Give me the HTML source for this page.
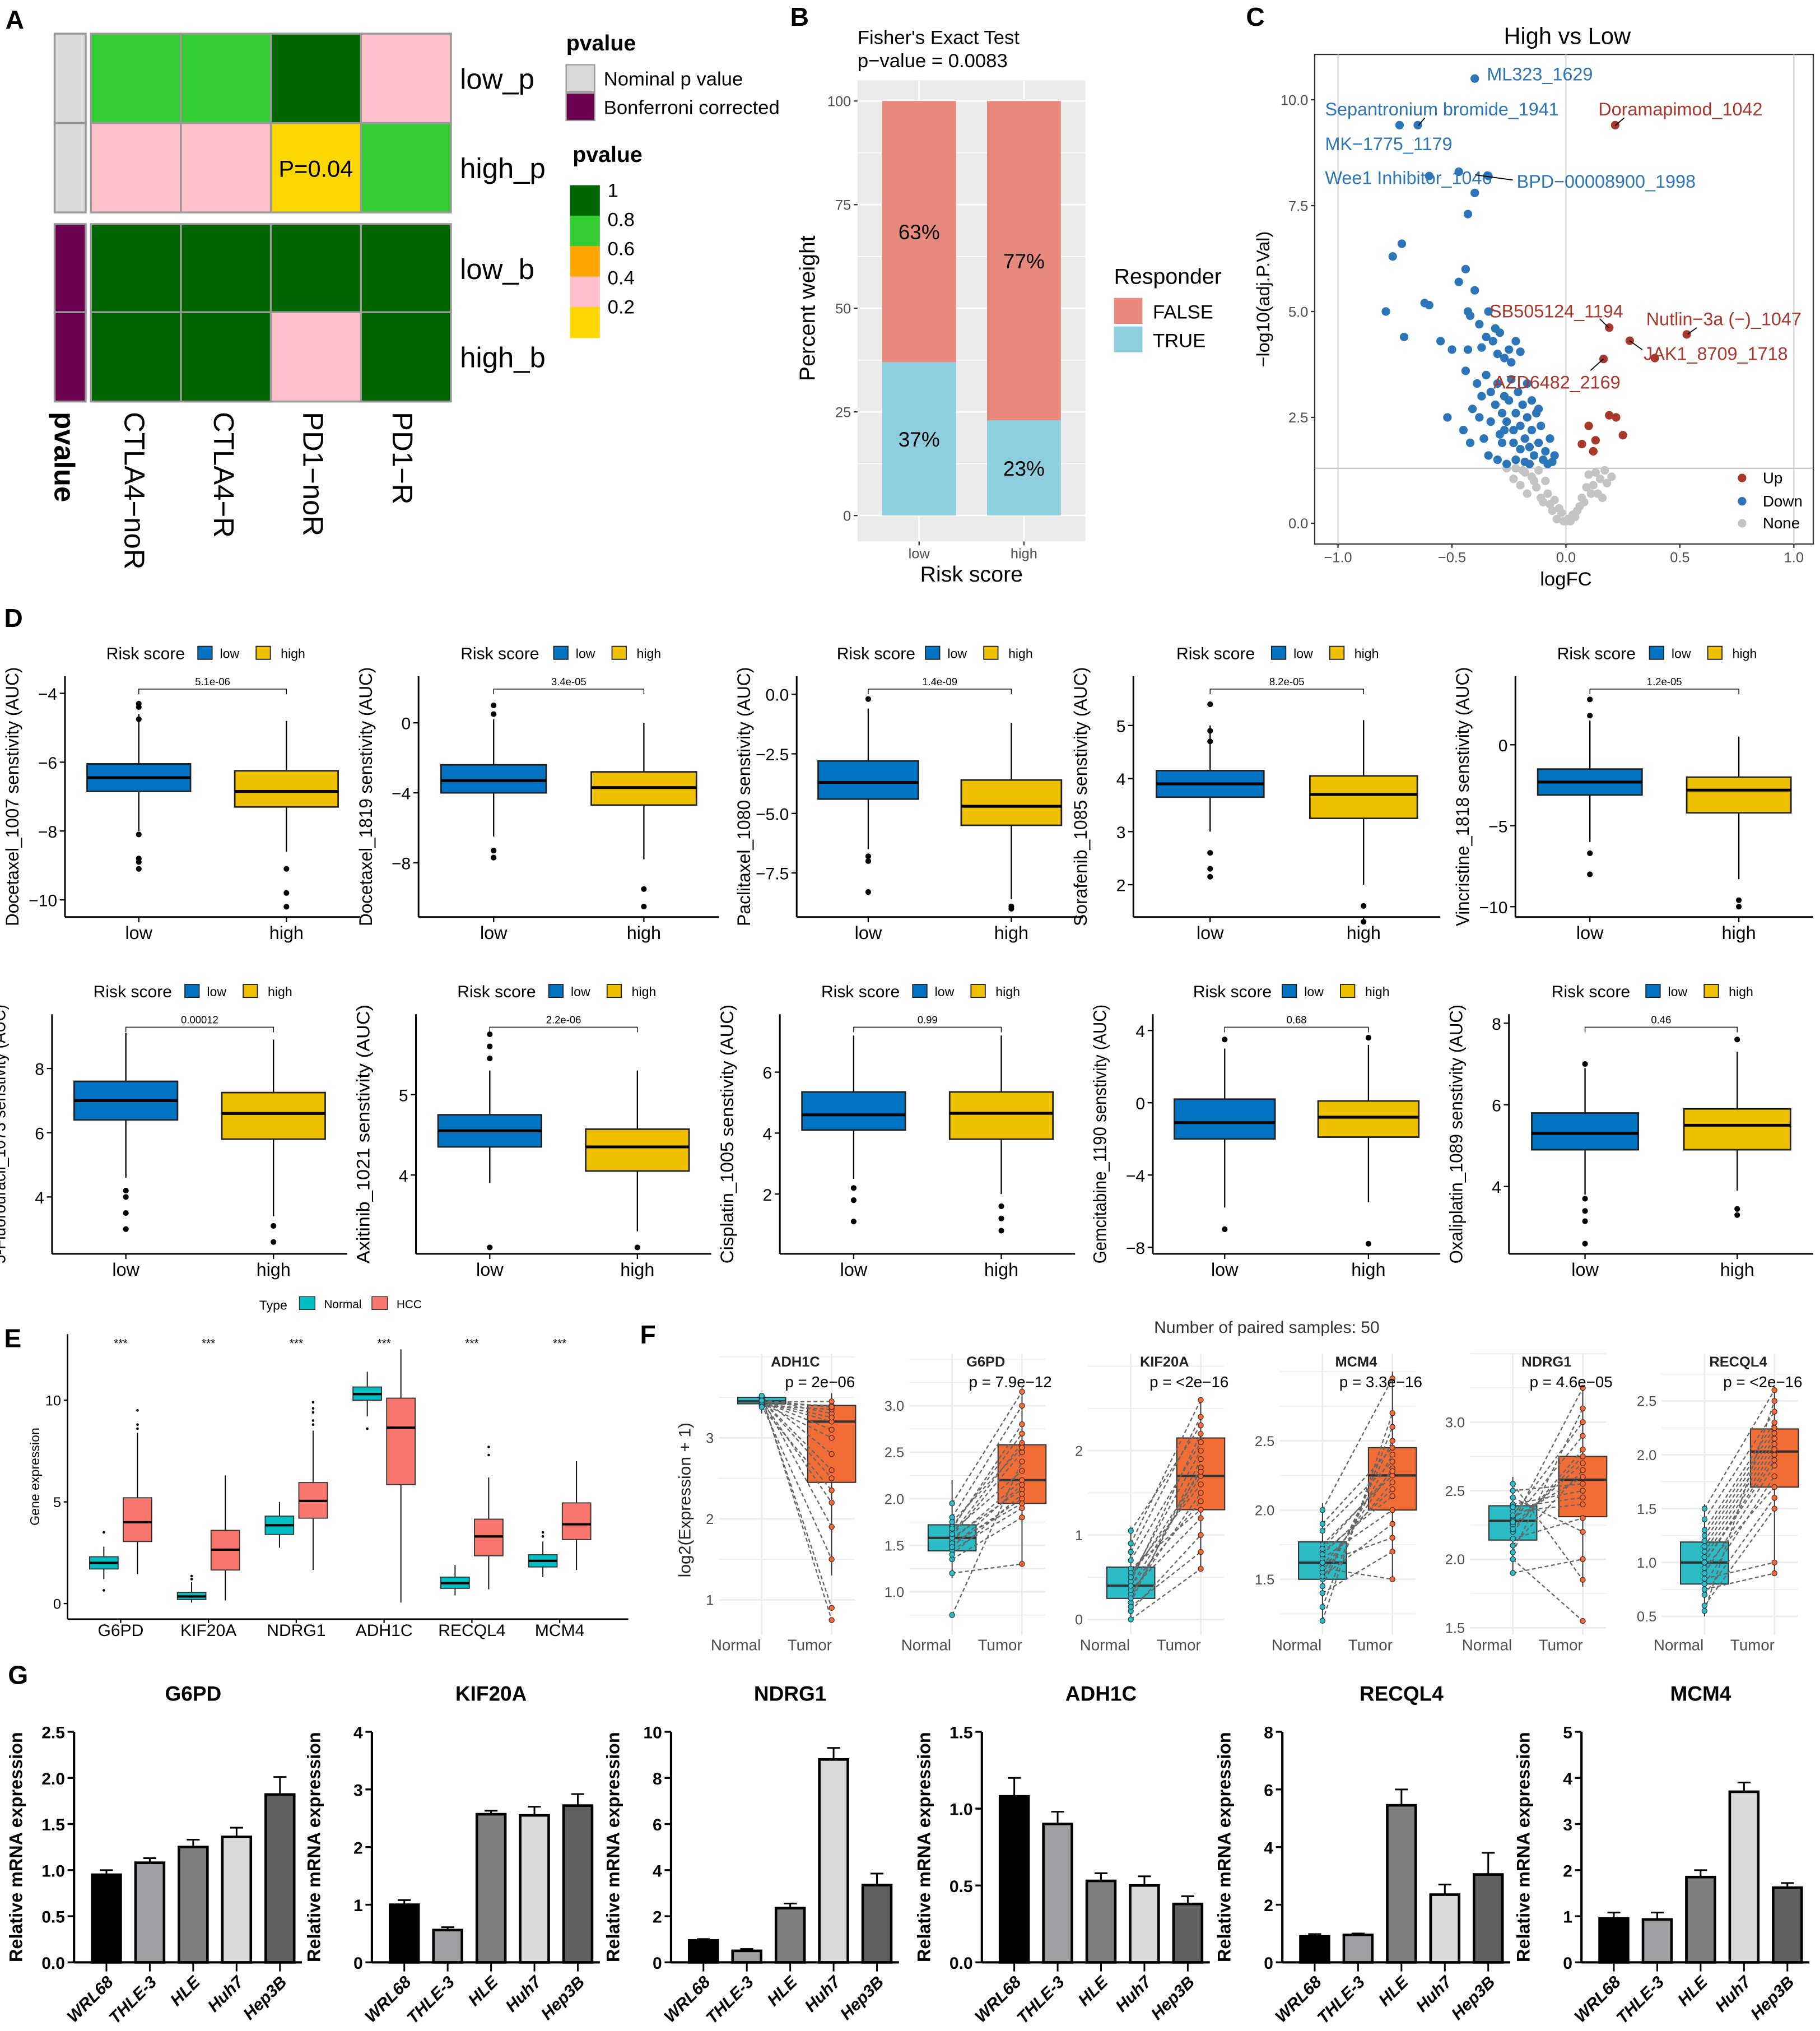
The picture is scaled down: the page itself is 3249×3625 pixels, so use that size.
<!DOCTYPE html>
<html><head><meta charset="utf-8"><style>
html,body{margin:0;padding:0;background:#fff;}
svg{display:block;}
</style></head><body>
<svg id="fig" xmlns="http://www.w3.org/2000/svg" width="3249" height="3625" viewBox="0 0 1405 1568" font-family="Liberation Sans, Arial, sans-serif">
<rect x="0" y="0" width="1405" height="1568" fill="#fff"/>
<g font-weight="bold" font-size="20">
<text x="4" y="22">A</text>
<text x="610" y="20">B</text>
<text x="962" y="20">C</text>
<text x="3" y="484">D</text>
<text x="3" y="1040">E</text>
<text x="494" y="1037">F</text>
<text x="6" y="1300">G</text>
</g>
</svg>
<script>
// ===== Panel A data =====
const aRows=['low_p','high_p','low_b','high_b'];
const aCols=['CTLA4−noR','CTLA4−R','PD1−noR','PD1−R'];
const aRow0=[0.7,0.7,1.0,0.3];
const aRow1=[0.3,0.3,0.04,0.7];
const aRow2=[1.0,1.0,1.0,1.0];
const aRow3=[1.0,1.0,0.3,1.0];
const aAnnot=['Nominal p value','Nominal p value','Bonferroni corrected','Bonferroni corrected'];
// ===== Panel B data =====
const bGroups=['low','high'];
const bTrue=[37,23];
const bFalse=[63,77];
const bTicks=[0,25,50,75,100];
// ===== Panel C data (logFC, -log10 adj p) =====
const cDownFC=[-0.72,-0.76,-0.79,-0.71,-0.62,-0.6,-0.55,-0.5,-0.47,-0.43,-0.44,-0.42,-0.4,-0.38,-0.43,-0.37,-0.35,-0.34,-0.32,-0.3,-0.29,-0.27,-0.25,-0.22,-0.2,-0.43,-0.34,-0.47,-0.44,-0.39,-0.37,-0.35,-0.33,-0.31,-0.3,-0.28,-0.27,-0.26,-0.25,-0.24,-0.23,-0.22,-0.21,-0.2,-0.19,-0.18,-0.17,-0.16,-0.15,-0.14,-0.13,-0.12,-0.11,-0.1,-0.09,-0.08,-0.07,-0.06,-0.05,-0.52,-0.45,-0.42,-0.36,-0.34,-0.3,-0.28,-0.26,-0.22,-0.2,-0.18,-0.33,-0.29,-0.23,-0.15,-0.12,-0.24,-0.17,-0.41,-0.38,-0.27,-0.16,-0.31,-0.4,-0.65,-0.73,-0.6,-0.4];
const cDownY=[6.6,6.3,5.0,4.4,5.2,5.15,4.3,4.1,5.7,5.0,6.0,4.9,5.5,4.7,4.1,4.15,4.4,5.0,4.3,4.0,4.5,3.9,4.1,4.3,4.05,7.3,8.2,8.3,3.6,3.3,3.0,3.5,3.1,2.8,3.3,2.6,3.0,2.4,2.9,3.4,2.2,2.6,3.1,2.3,2.8,2.0,2.5,1.8,2.2,1.6,2.6,1.9,2.3,1.5,1.7,1.4,2.0,1.45,1.6,2.5,2.2,1.9,2.0,1.6,1.5,1.9,1.4,1.5,1.75,1.45,2.4,2.1,1.9,2.9,2.7,3.8,3.3,2.7,2.5,2.2,1.4,4.6,7.8,9.4,9.4,8.2,10.5];
const cUpFC=[0.216,0.19,0.53,0.28,0.165,0.22,0.13,0.07,0.25,0.1,0.19,0.12,0.39];
const cUpY=[9.4,4.62,4.46,4.31,3.88,2.5,1.96,1.87,2.08,2.3,2.55,1.7,3.9];
const cNoneFC=[-0.22,-0.2,-0.18,-0.17,-0.15,-0.14,-0.13,-0.12,-0.11,-0.1,-0.09,-0.08,-0.07,-0.06,-0.05,-0.04,-0.03,-0.02,-0.01,0,0.01,0.02,0.03,0.04,0.05,0.06,0.07,0.08,0.09,0.1,0.11,0.12,0.13,0.14,0.15,0.16,0.18,0.2,-0.19,0.17,-0.26,-0.23];
const cNoneY=[1.3,0.9,1.2,0.7,1.1,1.0,0.85,1.25,0.6,0.5,1.0,0.7,0.45,0.3,0.55,0.1,0.35,0.25,0.05,0.05,0.1,0.05,0.2,0.15,0.3,0.4,0.6,0.5,0.85,1.15,0.7,0.9,1.2,0.7,1.05,0.6,0.95,1.1,1.25,1.25,1.3,1.05];
// ===== Panel D data =====
const dDrugs=['Docetaxel_1007','Docetaxel_1819','Paclitaxel_1080','Sorafenib_1085','Vincristine_1818','5-Fluorouracil_1073','Axitinib_1021','Cisplatin_1005','Gemcitabine_1190','Oxaliplatin_1089'];
const dPvals=['5.1e-06','3.4e-05','1.4e-09','8.2e-05','1.2e-05','0.00012','2.2e-06','0.99','0.68','0.46'];
const dDomains=[[-10.5,-3.5],[-11.1,2.67],[-9.35,0.76],[1.39,5.93],[-10.64,4.24],[2.23,9.69],[3.02,6.0],[0.04,7.9],[-8.36,4.9],[2.35,8.22]];
const dTicks=[[-10,-8,-6,-4],[-8,-4,0],[-7.5,-5,-2.5,0],[2,3,4,5],[-10,-5,0],[4,6,8],[4,5],[2,4,6],[-8,-4,0,4],[4,6,8]];
const dTickLabels=[['−10','−8','−6','−4'],['−8','−4','0'],['−7.5','−5.0','−2.5','0.0'],['2','3','4','5'],['−10','−5','0'],['4','6','8'],['4','5'],['2','4','6'],['−8','−4','0','4'],['4','6','8']];
const dLow=[[-8.0,-6.85,-6.45,-6.05,-4.6],[-6.5,-4.0,-3.3,-2.4,0.2],[-6.5,-4.4,-3.7,-2.8,-0.6],[3.0,3.65,3.9,4.15,5.0],[-6.0,-3.1,-2.3,-1.5,1.5],[4.6,6.4,7.0,7.6,9.1],[3.9,4.35,4.55,4.75,5.3],[2.5,4.1,4.6,5.35,7.2],[-5.8,-2.0,-1.1,0.2,3.0],[3.8,4.9,5.3,5.8,6.9]];
const dHigh=[[-8.6,-7.3,-6.85,-6.25,-4.8],[-7.8,-4.7,-3.7,-2.8,0.0],[-8.6,-5.5,-4.7,-3.6,-1.2],[2.0,3.25,3.7,4.05,5.1],[-8.3,-4.2,-2.8,-2.0,0.5],[3.4,5.8,6.6,7.25,8.9],[3.3,4.05,4.35,4.57,5.3],[2.0,3.8,4.65,5.35,7.2],[-5.5,-1.9,-0.8,0.1,3.2],[3.9,4.9,5.5,5.9,7.3]];
const dLowOut=[[-4.3,-4.4,-4.75,-8.1,-8.8,-8.9,-9.1],[1.0,0.5,-7.3,-7.7],[-0.2,-6.8,-7.0,-8.3],[5.4,4.9,4.7,2.6,2.3,2.15],[2.8,1.8,-6.7,-8.0],[4.2,4.0,3.5,3.0],[5.75,5.6,5.45,3.1],[2.2,1.8,1.1],[3.5,-7.0],[7.0,3.7,3.4,3.15,2.6]];
const dHighOut=[[-9.1,-9.8,-10.2],[-9.5,-10.5],[-8.9,-9.0],[1.6,1.3],[-9.6,-10.0],[3.1,2.6],[3.1],[1.6,1.2,0.8],[3.6,-7.8],[7.6,3.45,3.3]];
// ===== Panel E data =====
const eGenes=['G6PD','KIF20A','NDRG1','ADH1C','RECQL4','MCM4'];
const eNormal=[[1.2,1.7,2.0,2.3,2.8],[0.05,0.2,0.35,0.55,1.05],[2.75,3.4,3.85,4.3,5.0],[9.2,10.0,10.3,10.65,11.4],[0.4,0.75,1.0,1.3,1.9],[1.3,1.8,2.1,2.4,3.05]];
const eTumor=[[1.45,3.05,4.0,5.2,8.4],[0.15,1.65,2.65,3.6,6.3],[1.65,4.2,5.05,5.95,8.5],[0.05,5.85,8.65,10.1,12.5],[0.7,2.35,3.3,4.15,6.2],[1.65,3.15,3.9,4.95,7.0]];
const eNormalOut=[[3.5,0.65],[1.2,1.35],[],[8.6],[],[3.5,3.3]];
const eTumorOut=[[8.6,8.8,9.5],[],[8.8,9.0,9.4,9.6,9.9],[],[7.3,7.7],[]];
// ===== Panel F data =====
const fGenes=['ADH1C','G6PD','KIF20A','MCM4','NDRG1','RECQL4'];
const fP=['p = 2e−06','p = 7.9e−12','p = <2e−16','p = 3.3e−16','p = 4.6e−05','p = <2e−16'];
const fDomains=[[0.57,4.04],[0.54,3.56],[-0.18,3.15],[1.10,3.13],[1.45,3.5],[0.33,2.94]];
const fTicks=[[1,2,3],[1.0,1.5,2.0,2.5,3.0],[0,1,2],[1.5,2.0,2.5],[1.5,2.0,2.5,3.0],[0.5,1.0,1.5,2.0,2.5]];
const fBoxN=[[3.3,3.42,3.45,3.5,3.55],[1.15,1.44,1.58,1.72,2.2],[0.0,0.25,0.4,0.62,1.1],[1.2,1.5,1.62,1.77,2.05],[1.9,2.14,2.28,2.39,2.6],[0.5,0.8,1.0,1.19,1.54]];
const fBoxT=[[1.3,2.45,3.2,3.4,3.55],[1.3,1.95,2.2,2.58,3.2],[0.6,1.3,1.7,2.15,2.6],[1.5,2.0,2.25,2.45,3.0],[1.8,2.31,2.58,2.75,3.25],[0.9,1.7,2.03,2.24,2.62]];
const fNormal=[
 [3.48,3.45,3.5,3.42,3.47,3.44,3.49,3.4,3.46,3.43,3.5,3.45,3.41,3.47,3.44,3.52,3.38,3.46],
 [1.55,1.6,1.7,1.45,1.5,1.65,1.58,1.35,1.8,1.62,0.75,1.52,1.68,1.48,1.75,1.95,1.2,1.4],
 [0.4,0.3,0.5,0.6,0.2,0.35,0.45,0.8,0.1,0.55,0.25,0.7,0.4,0.0,0.9,1.05,0.15,0.5],
 [1.6,1.55,1.7,1.5,1.65,1.45,1.75,1.62,1.3,1.85,1.58,1.68,1.2,1.52,1.9,2.0,1.4,1.72],
 [2.3,2.25,2.35,2.2,2.4,2.15,2.28,2.45,2.1,2.32,2.0,2.5,2.22,2.38,2.05,1.9,2.55,2.27],
 [1.0,0.9,1.1,1.2,0.8,1.05,0.95,1.3,0.6,1.15,0.85,1.4,0.7,1.0,0.55,1.5,0.75,1.25]];
const fTumor=[
 [3.3,3.1,2.8,3.4,2.5,3.2,1.9,3.35,2.2,3.0,0.9,3.25,1.5,2.6,3.45,0.75,2.35,3.38],
 [2.2,2.5,2.7,1.9,2.0,2.3,2.1,1.8,3.0,2.6,2.4,1.95,2.8,2.15,2.55,3.15,1.3,2.05],
 [1.7,1.5,2.0,1.3,1.9,1.2,2.2,2.4,1.0,1.6,1.8,2.1,1.4,0.6,2.6,2.3,0.8,1.75],
 [2.2,2.3,2.1,2.4,2.0,2.5,2.25,1.8,2.6,2.35,1.5,2.15,2.7,1.9,2.45,2.95,1.7,2.28],
 [2.6,2.7,2.4,2.8,2.5,2.3,2.9,2.2,2.65,3.0,1.55,2.55,2.75,2.45,3.1,2.0,1.85,3.25],
 [2.0,1.9,2.1,2.2,1.8,2.05,1.7,2.3,1.5,2.15,1.0,2.4,1.6,1.95,2.5,2.6,0.9,2.25]];
// ===== Panel G data =====
const gGenes=['G6PD','KIF20A','NDRG1','ADH1C','RECQL4','MCM4'];
const gCells=['WRL68','THLE-3','HLE','Huh7','Hep3B'];
const gValues=[[0.95,1.08,1.25,1.36,1.82],[1.0,0.56,2.57,2.55,2.72],[0.95,0.5,2.35,8.8,3.35],[1.08,0.9,0.53,0.5,0.38],[0.9,0.95,5.45,2.35,3.05],[0.95,0.93,1.85,3.7,1.62]];
const gErrors=[[0.05,0.05,0.08,0.1,0.19],[0.08,0.05,0.06,0.15,0.2],[0.06,0.08,0.2,0.5,0.5],[0.12,0.08,0.05,0.06,0.05],[0.08,0.05,0.55,0.35,0.75],[0.13,0.15,0.15,0.2,0.1]];
const gMax=[2.5,4,10,1.5,8,5];
const gStep=[0.5,1,2,0.5,2,1];

// ===== helpers =====
const NS='http://www.w3.org/2000/svg';
const svg=document.getElementById('fig');
function mk(tag,a,p){const e=document.createElementNS(NS,tag);for(const k in a)e.setAttribute(k,a[k]);(p||svg).appendChild(e);return e;}
function tx(s,x,y,o,p){const e=mk('text',Object.assign({x:x,y:y,'font-size':12,fill:'#000'},o||{}),p);e.textContent=s;return e;}
function grp(p){return mk('g',{},p);}

// ===== Panel A =====
(function(){
 const g=grp();
 
 
 const rows=[aRow0,aRow1,aRow2,aRow3];
 const rowY=[26,95,173,241], rh=69, cx0=70, cw=69.5;
 function col(v){return v>0.9?'#006400':v>0.6?'#33cc33':v>0.4?'#ffa500':v>0.2?'#ffc0cb':'#ffd700';}
 rows.forEach((r,i)=>{
  const an=mk('rect',{x:42,y:rowY[i],width:24,height:rh,fill:aAnnot[i][0]==='N'?'#d9d9d9':'#6b0050',stroke:'#999','stroke-width':1.5},g);
  
  
  r.forEach((v,j)=>{
   const c=mk('rect',{x:cx0+j*cw,y:rowY[i],width:cw,height:rh,fill:col(v),stroke:'#999','stroke-width':1.5},g);
   
   
   if(v<0.05){const t=tx('P='+v.toFixed(2),cx0+j*cw+cw/2,rowY[i]+rh/2+7,{'font-size':18,'text-anchor':'middle'},g);}
  });
  const rl=tx(aRows[i],355,rowY[i]+rh/2+8,{'font-size':22},g);
  
  
 });
 const lbls=['pvalue'].concat(aCols), lx=[42,96,165,234,303];
 lbls.forEach((s,i)=>{
  const t=tx(s,lx[i],318,{'font-size':22,'font-weight':i==0?'bold':'normal',transform:'rotate(90 '+lx[i]+' 318)'},g);
  
  
 });
 const l1=tx('pvalue',437,39,{'font-size':17,'font-weight':'bold'},g);
 
 
 mk('rect',{x:437,y:50,width:22,height:21,fill:'#d9d9d9',stroke:'#999'},g);
 mk('rect',{x:437,y:72,width:22,height:21,fill:'#6b0050',stroke:'#999'},g);
 tx('Nominal p value',466,66,{'font-size':15},g);
 tx('Bonferroni corrected',466,88,{'font-size':15},g);
 const l2=tx('pvalue',442,125,{'font-size':17,'font-weight':'bold'},g);
 
 
 const cb=['#006400','#33cc33','#ffa500','#ffc0cb','#ffd700'];
 cb.forEach((c,i)=>{mk('rect',{x:440,y:143+i*23.5,width:23,height:24,fill:c},g);});
 ['1','0.8','0.6','0.4','0.2'].forEach((s,i)=>{tx(s,469,152+i*22.5,{'font-size':15},g);});
})();

// ===== Panel B =====
(function(){
 const g=grp();
 
 
 const X0=662,X1=838,Y0=62,Y1=418;
 const y=v=>398-v*3.2;
 mk('rect',{x:X0,y:Y0,width:X1-X0,height:Y1-Y0,fill:'#ebebeb'},g);
 for(let v=12.5;v<100;v+=25)mk('line',{x1:X0,x2:X1,y1:y(v),y2:y(v),stroke:'#fff','stroke-width':0.6},g);
 bTicks.forEach(v=>{mk('line',{x1:X0,x2:X1,y1:y(v),y2:y(v),stroke:'#fff','stroke-width':1.2},g);mk('line',{x1:X0-3,x2:X0,y1:y(v),y2:y(v),stroke:'#333'},g);tx(String(v),X0-5,y(v)+4,{'font-size':11,fill:'#4d4d4d','text-anchor':'end'},g);});
 const bw=57;
 bGroups.forEach((n,i)=>{
  const cx=X0+(X1-X0)*(i==0?0.27:0.73);
  mk('line',{x1:cx,x2:cx,y1:Y0,y2:Y1,stroke:'#fff','stroke-width':1.2},g);
  const t=mk('rect',{x:cx-bw/2,y:y(bTrue[i]),width:bw,height:y(0)-y(bTrue[i]),fill:'#8ecfdf'},g);
  
  
  const f=mk('rect',{x:cx-bw/2,y:y(bTrue[i]+bFalse[i]),width:bw,height:y(bTrue[i])-y(bTrue[i]+bFalse[i]),fill:'#e8897d'},g);
  
  
  tx(bTrue[i]+'%',cx,y(bTrue[i]/2)+6,{'font-size':16,'text-anchor':'middle'},g);
  tx(bFalse[i]+'%',cx,y(bTrue[i]+bFalse[i]/2)+6,{'font-size':16,'text-anchor':'middle'},g);
  mk('line',{x1:cx,x2:cx,y1:Y1,y2:Y1+3,stroke:'#333'},g);
  tx(n,cx,Y1+13,{'font-size':11,fill:'#4d4d4d','text-anchor':'middle'},g);
 });
 tx('Risk score',750,449,{'font-size':17,'text-anchor':'middle'},g);
 tx('Percent weight',629,238,{'font-size':17,'text-anchor':'middle',transform:'rotate(-90 629 238)'},g);
 tx("Fisher's Exact Test",662,34,{'font-size':15},g);
 tx('p−value = 0.0083',662,52,{'font-size':15},g);
 tx('Responder',860,219,{'font-size':17},g);
 mk('rect',{x:860,y:230,width:22,height:20,fill:'#e8897d'},g);
 mk('rect',{x:860,y:252,width:22,height:20,fill:'#8ecfdf'},g);
 tx('FALSE',890,246,{'font-size':15},g);
 tx('TRUE',890,268,{'font-size':15},g);
})();

// ===== Panel C =====
(function(){
 const g=grp();
 
 
 const sx=v=>1209+v*176, sy=v=>404-v*32.7;
 mk('rect',{x:1015,y:42,width:385,height:378,fill:'#fff',stroke:'#333','stroke-width':1},g);
 [-1,0,1].forEach(v=>mk('line',{x1:sx(v),x2:sx(v),y1:42,y2:420,stroke:'#ccc','stroke-width':0.8},g));
 mk('line',{x1:1015,x2:1400,y1:sy(1.3),y2:sy(1.3),stroke:'#bbb','stroke-width':0.8},g);
 [-1,-0.5,0,0.5,1].forEach(v=>{mk('line',{x1:sx(v),x2:sx(v),y1:420,y2:423,stroke:'#333'},g);tx((v<0?'−':'')+Math.abs(v).toFixed(1),sx(v),434,{'font-size':11,fill:'#4d4d4d','text-anchor':'middle'},g);});
 [0,2.5,5,7.5,10].forEach(v=>{mk('line',{x1:1012,x2:1015,y1:sy(v),y2:sy(v),stroke:'#333'},g);tx(v.toFixed(1),1010,sy(v)+4,{'font-size':11,fill:'#4d4d4d','text-anchor':'end'},g);});
 cNoneFC.forEach((v,i)=>{const c=mk('circle',{cx:sx(v),cy:sy(cNoneY[i]),r:3.3,fill:'#c4c4c4'},g);});
 cDownFC.forEach((v,i)=>{const c=mk('circle',{cx:sx(v),cy:sy(cDownY[i]),r:3.3,fill:'#2b75b8'},g);});
 cUpFC.forEach((v,i)=>{const c=mk('circle',{cx:sx(v),cy:sy(cUpY[i]),r:3.3,fill:'#a8372c'},g);});
 const B='#2b75b8',R='#a8372c';
 [['ML323_1629',1148,62,B],['Sepantronium bromide_1941',1023,89,B],['MK−1775_1179',1023,116,B],['Wee1 Inhibitor_1046',1023,142,B],['BPD−00008900_1998',1171,145,B],['Doramapimod_1042',1234,89,R],['SB505124_1194',1150,245,R],['Nutlin−3a (−)_1047',1271,251,R],['JAK1_8709_1718',1269,278,R],['AZD6482_2169',1153,300,R]].forEach(a=>{const t=tx(a[0],a[1],a[2],{'font-size':14,fill:a[3]},g);});
 [[1095,97,1100,91],[1139,135,1168,139],[1247,97,1254,91],[1242,253,1235,246],[1303,258,1310,253],[1258,263,1268,270],[1238,277,1228,286]].forEach(l=>mk('line',{x1:l[0],y1:l[1],x2:l[2],y2:l[3],stroke:'#000','stroke-width':0.8},g));
 tx('High vs Low',1210,34,{'font-size':18,'text-anchor':'middle'},g);
 tx('logFC',1209,452,{'font-size':15,'text-anchor':'middle'},g);
 tx('−log10(adj.P.Val)',980,231,{'font-size':14,'text-anchor':'middle',transform:'rotate(-90 980 231)'},g);
 [['Up',R,369],['Down',B,387],['None','#c4c4c4',404]].forEach(l=>{mk('circle',{cx:1345,cy:l[2],r:3.3,fill:l[1]},g);tx(l[0],1361,l[2]+4,{'font-size':12},g);});
})();

// ===== Panel D =====
const dLayout=[[50,278,522,708],[323,555,522,708],[615,836,522,708],[875,1112,522,708],[1170,1400,522,708],[40,268,783,968],[321,549,783,968],[602,830,783,968],[890,1112,783,968],[1165,1400,783,968]];
dDrugs.forEach((name,k)=>{
 const L=dLayout[k], x0=L[0],x1=L[1],y0=L[2],y1=L[3], w=x1-x0;
 const lo=dDomains[k][0],hi=dDomains[k][1];
 const y=v=>y1-(v-lo)/(hi-lo)*(y1-y0);
 const g=grp();
 
 
 mk('line',{x1:x0,x2:x0,y1:y0,y2:y1,stroke:'#000','stroke-width':1.3},g);
 mk('line',{x1:x0,x2:x1,y1:y1,y2:y1,stroke:'#000','stroke-width':1.3},g);
 dTicks[k].forEach((v,i)=>{mk('line',{x1:x0-4,x2:x0,y1:y(v),y2:y(v),stroke:'#000'},g);tx(dTickLabels[k][i],x0-6,y(v)+5,{'font-size':13,'text-anchor':'end'},g);});
 const cols=['#0073c2','#efc000'], stats=[dLow[k],dHigh[k]], outs=[dLowOut[k],dHighOut[k]], nm=['low','high'];
 const cxs=[x0+w*0.25,x0+w*0.75], bw=w*0.35;
 stats.forEach((s,i)=>{
  const cx=cxs[i];
  mk('line',{x1:cx,x2:cx,y1:y(s[0]),y2:y(s[1]),stroke:'#000','stroke-width':1},g);
  mk('line',{x1:cx,x2:cx,y1:y(s[3]),y2:y(s[4]),stroke:'#000','stroke-width':1},g);
  const b=mk('rect',{x:cx-bw/2,y:y(s[3]),width:bw,height:y(s[1])-y(s[3]),fill:cols[i],stroke:'#222','stroke-width':1.2},g);
  
  
  mk('line',{x1:cx-bw/2,x2:cx+bw/2,y1:y(s[2]),y2:y(s[2]),stroke:'#000','stroke-width':2.2},g);
  outs[i].forEach(v=>{const o=mk('circle',{cx:cx,cy:y(v),r:2.2,fill:'#000'},g);});
  mk('line',{x1:cx,x2:cx,y1:y1,y2:y1+4,stroke:'#000'},g);
  tx(nm[i],cx,y1+17,{'font-size':14,'text-anchor':'middle'},g);
 });
 const by=y0+10;
 mk('path',{d:'M'+cxs[0]+' '+(by+4)+'V'+by+'H'+cxs[1]+'V'+(by+4),fill:'none',stroke:'#000','stroke-width':0.6},g);
 tx(dPvals[k],(cxs[0]+cxs[1])/2,by-3,{'font-size':8,'text-anchor':'middle'},g);
 const ly=y0-18;
 tx('Risk score',x0+w*0.14,ly+5,{'font-size':13},g);
 const lx=x0+w*0.45;
 mk('rect',{x:lx,y:ly-5,width:11,height:10,fill:'#0073c2',stroke:'#222','stroke-width':0.8},g);
 tx('low',lx+17,ly+4,{'font-size':10},g);
 mk('rect',{x:lx+45,y:ly-5,width:11,height:10,fill:'#efc000',stroke:'#222','stroke-width':0.8},g);
 tx('high',lx+64,ly+4,{'font-size':10},g);
 const tyx=x0-36, tyy=(y0+y1)/2;
 const t=tx(name+'  senstivity (AUC)',tyx,tyy,{'font-size':14,'text-anchor':'middle',textLength:200,lengthAdjust:'spacingAndGlyphs',transform:'rotate(-90 '+tyx+' '+tyy+')'},g);
 
 
});

// ===== Panel E =====
(function(){
 const g=grp();
 
 
 const X0=52,X1=485,Y0=1030,Y1=1250, y=v=>1238-v*15.7;
 mk('line',{x1:X0,x2:X0,y1:Y0,y2:Y1,stroke:'#000','stroke-width':1.2},g);
 mk('line',{x1:X0,x2:X1,y1:Y1,y2:Y1,stroke:'#000','stroke-width':1.2},g);
 [0,5,10].forEach(v=>{mk('line',{x1:X0-3,x2:X0,y1:y(v),y2:y(v),stroke:'#000'},g);tx(String(v),X0-5,y(v)+4,{'font-size':11,'text-anchor':'end'},g);});
 tx('Gene expression',30,1140,{'font-size':10,'text-anchor':'middle',transform:'rotate(-90 30 1140)'},g);
 eGenes.forEach((gn,i)=>{
  const cx=93+i*67.8;
  [[eNormal[i],eNormalOut[i],'#00bfc4',-13],[eTumor[i],eTumorOut[i],'#f8766d',13]].forEach(d=>{
   const s=d[0],c=cx+d[3],bw=22;
   mk('line',{x1:c,x2:c,y1:y(s[0]),y2:y(s[4]),stroke:'#000','stroke-width':0.8},g);
   const b=mk('rect',{x:c-bw/2,y:y(s[3]),width:bw,height:y(s[1])-y(s[3]),fill:d[2],stroke:'#333','stroke-width':0.8},g);
   
   
   mk('line',{x1:c-bw/2,x2:c+bw/2,y1:y(s[2]),y2:y(s[2]),stroke:'#000','stroke-width':1.8},g);
   d[1].forEach(v=>mk('circle',{cx:c,cy:y(v),r:1,fill:'#000'},g));
  });
  mk('line',{x1:cx,x2:cx,y1:Y1,y2:Y1+3,stroke:'#000'},g);
  tx(gn,cx,1263,{'font-size':13,'text-anchor':'middle'},g);
  tx('***',cx,1040,{'font-size':9,'text-anchor':'middle'},g);
 });
 tx('Type',200,1011,{'font-size':10},g);
 mk('rect',{x:231,y:1001,width:12,height:10,fill:'#00bfc4',stroke:'#333','stroke-width':0.6},g);
 tx('Normal',250,1010,{'font-size':9},g);
 mk('rect',{x:287,y:1001,width:12,height:10,fill:'#f8766d',stroke:'#333','stroke-width':0.6},g);
 tx('HCC',306,1010,{'font-size':9},g);
})();

// ===== Panel F =====
const fNormX=[588,735,873,1021,1168,1316];
(function(){
 const g=grp();
 
 
 tx('Number of paired samples: 50',978,1029,{'font-size':13,fill:'#333','text-anchor':'middle'},g);
 tx('log2(Expression + 1)',533,1158,{'font-size':13,fill:'#222','text-anchor':'middle',transform:'rotate(-90 533 1158)'},g);
 fGenes.forEach((gn,k)=>{
  const nx=fNormX[k], tx2=nx+54, gx0=nx-33, gx1=nx+72, Y0=1045, Y1=1262;
  const lo=fDomains[k][0],hi=fDomains[k][1], y=v=>Y1-(v-lo)/(hi-lo)*(Y1-Y0);
  const sg=grp(g);
  
  
  const tk=fTicks[k], st=tk[1]-tk[0];
  for(let v=tk[0]-st/2;v<=hi;v+=st/2){if(v>=lo)mk('line',{x1:gx0,x2:gx1,y1:y(v),y2:y(v),stroke:'#ebebeb','stroke-width':tk.some(t=>Math.abs(t-v)<1e-6)?1.2:0.6},sg);}
  mk('line',{x1:nx,x2:nx,y1:Y0,y2:Y1,stroke:'#ebebeb','stroke-width':1.2},sg);
  mk('line',{x1:tx2,x2:tx2,y1:Y0,y2:Y1,stroke:'#ebebeb','stroke-width':1.2},sg);
  const dec=(st<1)?1:0;
  tk.forEach(v=>tx(v.toFixed(dec),gx0-4,y(v)+4,{'font-size':11,fill:'#4d4d4d','text-anchor':'end'},sg));
  [[fBoxN[k],nx,'#2bbcc6'],[fBoxT[k],tx2,'#f26c35']].forEach(d=>{
   const s=d[0],c=d[1],bw=37;
   mk('line',{x1:c,x2:c,y1:y(s[0]),y2:y(s[4]),stroke:'#333','stroke-width':0.8},sg);
   const b=mk('rect',{x:c-bw/2,y:y(s[3]),width:bw,height:y(s[1])-y(s[3]),fill:d[2],stroke:'#333','stroke-width':0.9},sg);
   
   
   mk('line',{x1:c-bw/2,x2:c+bw/2,y1:y(s[2]),y2:y(s[2]),stroke:'#333','stroke-width':1.8},sg);
  });
  fNormal[k].forEach((v,i)=>{const l=mk('line',{x1:nx,y1:y(v),x2:tx2,y2:y(fTumor[k][i]),stroke:'#666','stroke-width':1,'stroke-dasharray':'3,2'},sg);});
  fNormal[k].forEach(v=>mk('circle',{cx:nx,cy:y(v),r:2,fill:'#2bbcc6',stroke:'#234','stroke-width':0.5},sg));
  fTumor[k].forEach(v=>mk('circle',{cx:tx2,cy:y(v),r:2,fill:'#f26c35',stroke:'#422','stroke-width':0.5},sg));
  tx('Normal',nx-20,1274,{'font-size':12,fill:'#4d4d4d','text-anchor':'middle'},sg);
  tx('Tumor',tx2-17,1274,{'font-size':12,fill:'#4d4d4d','text-anchor':'middle'},sg);
  tx(gn,nx+26,1055,{'font-size':11,'font-weight':'bold','text-anchor':'middle',fill:'#222'},sg);
  tx(fP[k],nx+45,1071,{'font-size':12,'text-anchor':'middle'},sg);
 });
})();

// ===== Panel G =====
const gAxisX=[57,287,518,758,990,1221];
gGenes.forEach((gn,k)=>{
 const g=grp();
 
 
 const x0=gAxisX[k], Y0=1337, Y1=1515, y=v=>Y1-v/gMax[k]*(Y1-Y0);
 const cols=['#000000','#a0a0a4','#7f7f7f','#d9d9d9','#606060'];
 gValues[k].forEach((v,i)=>{
  const cx=x0+25+i*33.5, bw=22;
  mk('line',{x1:cx,x2:cx,y1:y(v),y2:y(v+gErrors[k][i]),stroke:'#000','stroke-width':1.3},g);
  mk('line',{x1:cx-5,x2:cx+5,y1:y(v+gErrors[k][i]),y2:y(v+gErrors[k][i]),stroke:'#000','stroke-width':1.3},g);
  const b=mk('rect',{x:cx-bw/2,y:y(v),width:bw,height:Y1-y(v),fill:cols[i],stroke:'#000','stroke-width':2},g);
  
  
  mk('line',{x1:cx,x2:cx,y1:Y1,y2:Y1+7,stroke:'#000','stroke-width':1.3},g);
  const lx=cx+6, ly=1531;
  tx(gCells[i],lx,ly,{'font-size':13,'font-weight':'bold','font-style':'italic','text-anchor':'end',transform:'rotate(-45 '+lx+' '+ly+')'},g);
 });
 mk('line',{x1:x0,x2:x0,y1:Y0,y2:Y1,stroke:'#000','stroke-width':1.8},g);
 mk('line',{x1:x0,x2:x0+176,y1:Y1,y2:Y1,stroke:'#000','stroke-width':1.8},g);
 const dec=gStep[k]<1?1:0;
 for(let v=0;v<=gMax[k]+1e-9;v+=gStep[k]){mk('line',{x1:x0-5,x2:x0,y1:y(v),y2:y(v),stroke:'#000','stroke-width':1.5},g);tx(v.toFixed(dec),x0-7,y(v)+5,{'font-size':13,'font-weight':'bold','text-anchor':'end'},g);}
 const t=tx(gn,x0+92,1313,{'font-size':16,'font-weight':'bold','text-anchor':'middle'},g);
 
 
 const ax=x0-40, ay=1426;
 tx('Relative mRNA expression',ax,ay,{'font-size':14,'font-weight':'bold','text-anchor':'middle',transform:'rotate(-90 '+ax+' '+ay+')'},g);
});
</script>
</body></html>
